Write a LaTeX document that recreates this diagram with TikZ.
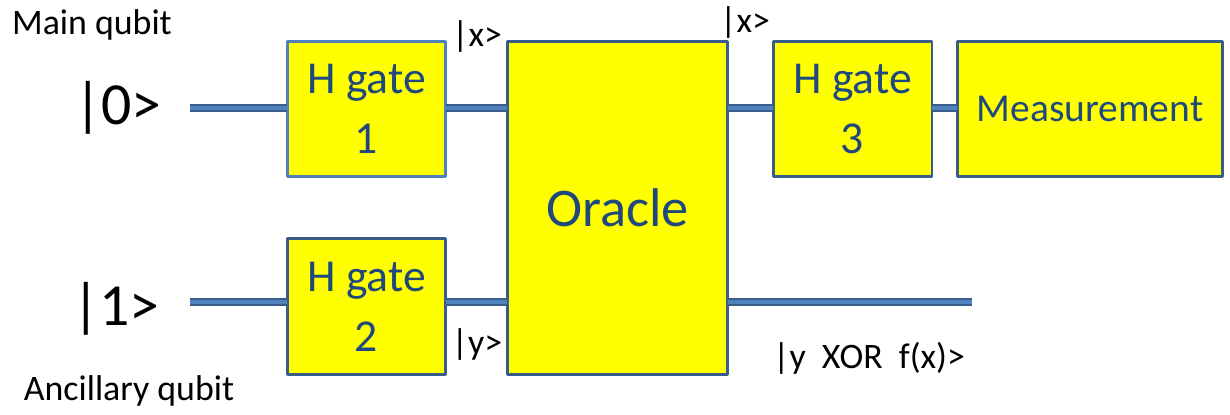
\documentclass[tikz,border=0pt]{standalone}
\usepackage{fontspec}
\setmainfont{Carlito}
\definecolor{gateyellow}{HTML}{FFFF00}
\definecolor{gateline}{HTML}{385D8A}
\definecolor{gatelight}{HTML}{4F81BD}
\definecolor{gatetext}{HTML}{1F497D}
\tikzset{
  every picture/.style={line join=round},
  gatebox/.style={draw=gateline, fill=gateyellow, line width=1.7pt, text=gatetext,
    align=center, inner sep=0pt, outer sep=0pt},
  wire/.style={draw=gateline, double=gatelight, line width=0.9pt, double distance=2.2pt},
  lbl/.style={anchor=base, inner sep=0pt, font=\fontsize{20.4pt}{24pt}\selectfont},
  ket/.style={anchor=base, inner sep=0pt, font=\fontsize{34pt}{40pt}\selectfont},
}

\begin{document}
\begin{tikzpicture}[x=0.02cm, y=-0.02cm]
\useasboundingbox (0,0) rectangle (1230,415);
% gates
\node[gatebox, draw=gatelight, minimum width=3.18cm, minimum height=2.72cm,
  font=\fontsize{26pt}{34pt}\selectfont] (hone) at (366.5,109) {H gate\\1};
\node[gatebox, minimum width=3.18cm, minimum height=2.74cm,
  font=\fontsize{26pt}{34pt}\selectfont] (htwo) at (366.5,306.5) {H gate\\2};
\node[gatebox, minimum width=4.42cm, minimum height=6.68cm,
  font=\fontsize{31pt}{36pt}\selectfont] (oracle) at (617.5,208) {Oracle};
\node[gatebox, minimum width=3.18cm, minimum height=2.72cm,
  font=\fontsize{26pt}{34pt}\selectfont] (hthree) at (852.5,109) {H gate\\3};
\node[gatebox, minimum width=5.32cm, minimum height=2.72cm,
  font=\fontsize{22.5pt}{26pt}\selectfont] (meas) at (1090,109) {Measurement};
% wires
\coordinate (qin) at (190,108);
\coordinate (ain) at (190,302);
\coordinate (aout) at (972,302);
\draw[wire] (qin) -- (hone.west |- qin);
\draw[wire] (hone.east |- qin) -- (oracle.west |- qin);
\draw[wire] (oracle.east |- qin) -- (hthree.west |- qin);
\draw[wire] (hthree.east |- qin) -- (meas.west |- qin);
\draw[wire] (ain) -- (htwo.west |- ain);
\draw[wire] (htwo.east |- ain) -- (oracle.west |- ain);
\draw[wire] (oracle.east |- ain) -- (aout);
% labels
\node[lbl] (mainq) at (92,35) {Main qubit};
\node[lbl] (ancq) at (129,400) {Ancillary qubit};
\node[ket] (kzero) at (118,125) {|0>};
\node[ket] (kone) at (116,325) {|1>};
\node[lbl] (xin) at (477,47) {|x>};
\node[lbl] (xout) at (745,33) {|x>};
\node[lbl] (yin) at (477,354) {|y>};
\node[lbl] (yout) at (869,368) {|y\ \ XOR\ \ f(x)>};
\end{tikzpicture}
\end{document}
